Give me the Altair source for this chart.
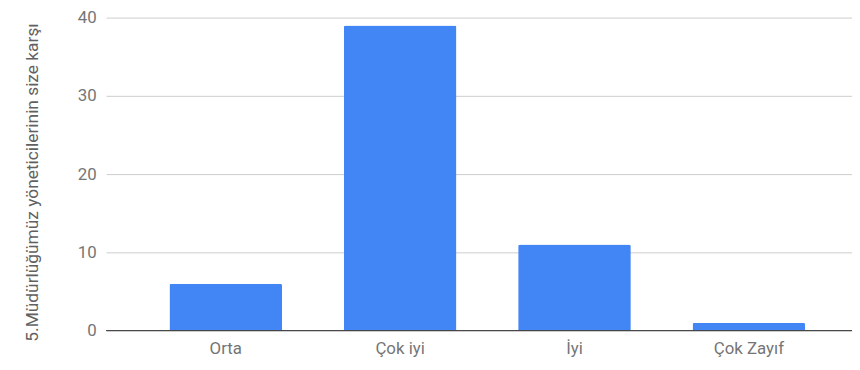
import altair as alt
import pandas as pd

categories = ["Orta", "Çok iyi", "İyi", "Çok Zayıf"]
values = [6, 39, 11, 1]
y_title = "5.Müdürlüğümüz yöneticilerinin size karşı"

df = pd.DataFrame({"cat": categories, "val": values})

bars = alt.Chart(df).mark_bar(
    color="#4285F4", cornerRadiusTopLeft=2, cornerRadiusTopRight=2
).encode(
    x=alt.X("cat:N", sort=categories, title=None,
            scale=alt.Scale(paddingInner=0.354, paddingOuter=0.316, align=0.575),
            axis=alt.Axis(labelAngle=0, ticks=False, domain=False, grid=False,
                          labelFont="Roboto", labelFontSize=17, labelColor="#757575",
                          labelPadding=10)),
    y=alt.Y("val:Q", title=y_title,
            scale=alt.Scale(domain=[0, 40]),
            axis=alt.Axis(values=[0, 10, 20, 30, 40], ticks=False, domain=False,
                          gridColor="#cccccc", gridWidth=1,
                          labelFont="Roboto", labelFontSize=17, labelColor="#757575",
                          labelPadding=10,
                          titleFont="Roboto", titleFontSize=17.5, titleFontWeight="normal",
                          titleColor="#616161", titleX=-74, titleY=166,
                          titleAngle=-90, titleAlign="center", titleBaseline="middle")),
)

zero = alt.Chart(pd.DataFrame({"y": [0]})).mark_rule(color="#333333", strokeWidth=1).encode(
    y="y:Q"
)

chart = (bars + zero).properties(
    width=753, height=316,
    autosize=alt.AutoSizeParams(type="none"),
    padding={"left": 99, "top": 8, "right": 0, "bottom": 30},
).configure_view(stroke=None)

chart.save("out.html", embed_options={"renderer": "svg", "actions": False})
